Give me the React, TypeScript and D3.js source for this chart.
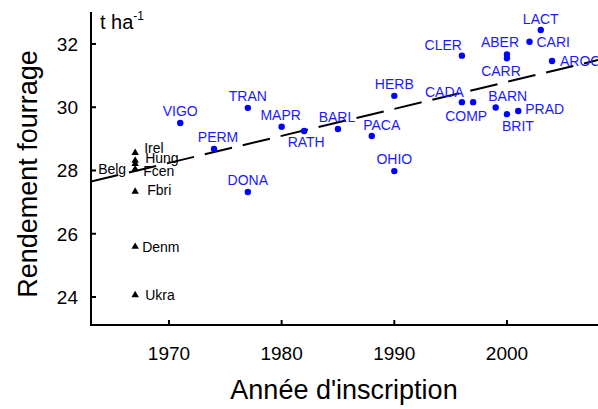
import React from 'react'
import { scaleLinear, symbol, symbolTriangle, line } from 'd3'

// cultivars registered in France (blue dots)
const cultivars = ['VIGO', 'PERM', 'TRAN', 'DONA', 'MAPR', 'RATH', 'BARL', 'PACA', 'HERB', 'OHIO', 'CLER', 'CADA', 'COMP', 'ABER', 'CARR', 'LACT', 'CARI', 'AROC', 'BARN', 'PRAD', 'BRIT']
const cultivarYears = [1971, 1974, 1977, 1977, 1980, 1982, 1985, 1988, 1990, 1990, 1996, 1996, 1997, 2000, 2000, 2003, 2002, 2004, 1999, 2001, 2000]
const cultivarYields = [29.5, 28.68, 29.98, 27.32, 29.38, 29.25, 29.31, 29.09, 30.36, 27.98, 31.63, 30.16, 30.16, 31.67, 31.55, 32.44, 32.07, 31.46, 29.99, 29.88, 29.78]

// populations (black triangles)
const populations = ['Irel', 'Hung', 'Fcen', 'Belg', 'Fbri', 'Denm', 'Ukra']
const populationYears = [1967, 1967, 1967, 1967, 1967, 1967, 1967]
const populationYields = [28.56, 28.31, 28.21, 28.04, 27.33, 25.59, 24.06]

// regression line
const trendYears = [1963.08, 2008.08]
const trendYields = [27.65, 31.49]

const xTicks = [1970, 1980, 1990, 2000]
const yTicks = [24, 26, 28, 30, 32]

// label placement: [dx, dy, anchor]
const place: Record<string, [number, number, string]> = {
  VIGO: [0, -7, 'middle'], PERM: [4, -7, 'middle'], TRAN: [0, -7, 'middle'], DONA: [0, -7, 'middle'],
  MAPR: [-1, -7, 'middle'], RATH: [2, 16, 'middle'], BARL: [-1, -7, 'middle'], PACA: [10, -6, 'middle'],
  HERB: [0, -7, 'middle'], OHIO: [0, -7, 'middle'], CLER: [0, -6, 'end'], CADA: [2, -5, 'end'],
  COMP: [-7, 19, 'middle'], ABER: [-7, -7, 'middle'], CARR: [-6, 18, 'middle'], LACT: [0, -6, 'middle'],
  CARI: [7, 5, 'start'], AROC: [8, 5, 'start'], BARN: [12, -7, 'middle'], PRAD: [7, 3, 'start'],
  BRIT: [11, 17, 'middle'],
  Irel: [9, 0, 'start'], Hung: [10, 2.5, 'start'], Fcen: [8, 12.5, 'start'], Belg: [-9, 4.5, 'end'],
  Fbri: [12, 3.5, 'start'], Denm: [7, 5, 'start'], Ukra: [10, 5, 'start'],
}

export default function App() {
  const left = 91, right = 598, top = 12, bottom = 325
  const x = scaleLinear().domain([1963.08, 2008.08]).range([left, right])
  const y = scaleLinear().domain([23.115, 33.01]).range([bottom, top])
  const tri = symbol().type(symbolTriangle).size(24)()
  const trendPath = line<number>().x((d) => x(d)).y((_, i) => y(trendYields[i]))(trendYears)
  const font = '"Liberation Sans", Arial, sans-serif'
  const blue = '#0000ff'

  return (
    <svg width={598} height={409} style={{ position: 'absolute', left: 0, top: 0, background: '#fff' }} fontFamily={font}>
      <defs>
        <clipPath id="plot"><rect x={left} y={top} width={right - left} height={bottom - top} /></clipPath>
      </defs>
      <path d={trendPath || ''} fill="none" stroke="#000" strokeWidth={2} strokeDasharray="28,11" clipPath="url(#plot)" />

      {cultivars.map((c, i) => {
        const [dx, dy, a] = place[c]
        const cx = x(cultivarYears[i]), cy = y(cultivarYields[i])
        return (
          <g key={c}>
            <circle cx={cx} cy={cy} r={3.2} fill={blue} />
            <text x={cx + dx} y={cy + dy} textAnchor={a} fontSize={14} fill="#1a1aff">{c}</text>
          </g>
        )
      })}

      {populations.map((p, i) => {
        const [dx, dy, a] = place[p]
        const cx = x(populationYears[i]), cy = y(populationYields[i])
        return (
          <g key={p}>
            <path d={tri || ''} transform={`translate(${cx},${cy})`} fill="#000" />
            <text x={cx + dx} y={cy + dy} textAnchor={a} fontSize={14} fill="#000">{p}</text>
          </g>
        )
      })}

      {/* axes */}
      <line x1={left} x2={left} y1={top} y2={bottom + 1} stroke="#000" strokeWidth={2} />
      <line x1={left - 1} x2={right} y1={bottom} y2={bottom} stroke="#000" strokeWidth={2} />
      {xTicks.map((t) => (
        <g key={t}>
          <line x1={x(t)} x2={x(t)} y1={bottom} y2={bottom - 5} stroke="#000" strokeWidth={2} />
          <text x={x(t)} y={360} textAnchor="middle" fontSize={19} fill="#000">{t}</text>
        </g>
      ))}
      {yTicks.map((t) => (
        <g key={t}>
          <line x1={left} x2={left + 5} y1={y(t)} y2={y(t)} stroke="#000" strokeWidth={2} />
          <text x={78} y={y(t) + 7} textAnchor="end" fontSize={19} fill="#000">{t}</text>
        </g>
      ))}

      <text x={100} y={29} fontSize={20} fill="#000">t ha<tspan fontSize={12} dy={-9}>-1</tspan></text>
      <text x={344} y={399} textAnchor="middle" fontSize={27} fill="#000">Année d'inscription</text>
      <text transform="translate(37,174) rotate(-90)" textAnchor="middle" fontSize={27} fill="#000">Rendement fourrage</text>
    </svg>
  )
}
